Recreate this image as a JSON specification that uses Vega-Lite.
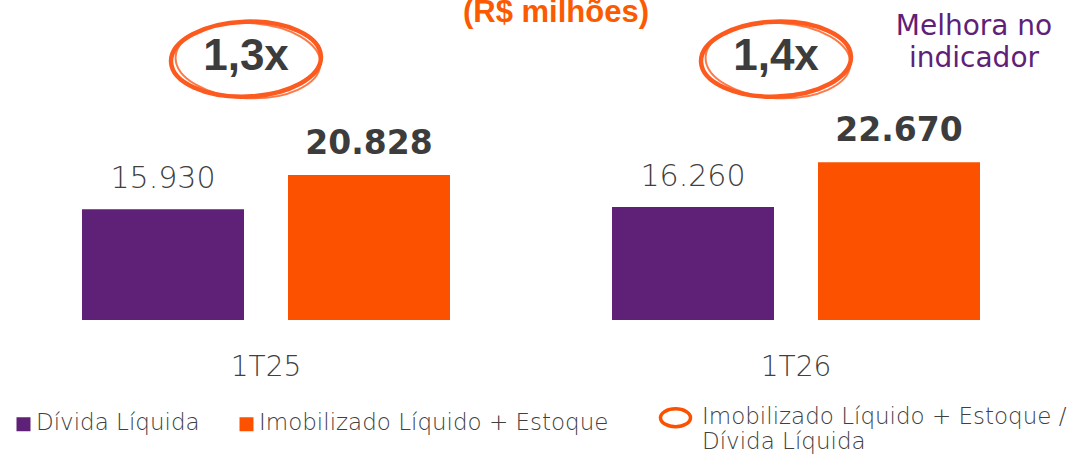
{
  "$schema": "https://vega.github.io/schema/vega-lite/v6.json",
  "width": 1060,
  "height": 320,
  "autosize": {"type": "none"},
  "padding": {"left": 1, "top": 0, "right": 10, "bottom": 135},
  "config": {
    "view": {"stroke": null},
    "font": "DejaVu Sans",
    "locale": {"number": {"decimal": ",", "thousands": ".", "grouping": [3], "currency": ["R$", ""]}}
  },
  "datasets": {
    "barras": [
      {"periodo": "1T25", "serie": "Dívida Líquida", "valor": 15930},
      {"periodo": "1T25", "serie": "Imobilizado Líquido + Estoque", "valor": 20828},
      {"periodo": "1T26", "serie": "Dívida Líquida", "valor": 16260},
      {"periodo": "1T26", "serie": "Imobilizado Líquido + Estoque", "valor": 22670}
    ],
    "razoes": [
      {"periodo": "1T25", "razao": "1,3x", "nota": ""},
      {"periodo": "1T26", "razao": "1,4x", "nota": "Melhora no\nindicador"}
    ],
    "titulo": [
      {"texto": "(R$ milhões)"}
    ]
  },
  "layer": [
    {
      "data": {"name": "barras"},
      "mark": {"type": "bar"},
      "encoding": {
        "x": {
          "field": "periodo",
          "type": "nominal",
          "scale": {"paddingInner": 0, "paddingOuter": 0},
          "axis": {
            "title": null,
            "domain": false,
            "ticks": false,
            "labelAngle": 0,
            "labelFont": "DejaVu Sans",
            "labelFontSize": 28,
            "labelFontWeight": 300,
            "labelColor": "#404040",
            "labelPadding": 33
          }
        },
        "xOffset": {"field": "serie", "type": "nominal", "scale": {"paddingInner": 0.2136, "paddingOuter": 0.3932}},
        "y": {"field": "valor", "type": "quantitative", "scale": {"domain": [0, 46000], "nice": false}, "axis": null},
        "color": {
          "field": "serie",
          "type": "nominal",
          "scale": {
            "domain": ["Dívida Líquida", "Imobilizado Líquido + Estoque", "Imobilizado Líquido + Estoque / Dívida Líquida"],
            "range": ["#5F2177", "#FC5200", "#FC5200"]
          },
          "legend": {
            "orient": "none",
            "legendX": 11,
            "legendY": 397,
            "direction": "horizontal",
            "columns": 3,
            "columnPadding": 32,
            "title": null,
            "padding": 0,
            "symbolType": "square",
            "symbolSize": 196,
            "symbolStrokeWidth": 0,
            "labelFont": "DejaVu Sans",
            "labelFontSize": 23,
            "labelFontWeight": 300,
            "labelColor": "#404040",
            "labelLimit": 600,
            "labelOffset": 1,
            "labelBaseline": "top",
            "labelExpr": "datum.index === 2 ? ['Imobilizado Líquido + Estoque /', 'Dívida Líquida'] : datum.label",
            "encoding": {
              "symbols": {
                "shape": {"value": {"expr": "datum.index === 2 ? 'M -1.8 0.6 M -1 0.6 A 1 0.6 0 1 1 1 0.6 A 1 0.6 0 1 1 -1 0.6 Z' : 'square'"}},
                "size": {"value": {"expr": "datum.index === 2 ? 900 : 196"}},
                "fill": {"value": {"expr": "datum.index === 2 ? 'transparent' : scale('color', datum.value)"}},
                "fillOpacity": {"value": {"expr": "datum.index === 2 ? 0 : 1"}},
                "stroke": {"value": {"expr": "datum.index === 2 ? '#FC5200' : 'transparent'"}},
                "strokeWidth": {"value": 3.5}
              },
              "labels": {
                "dx": {"value": {"expr": "datum.index === 2 ? 14 : 0"}},
                "dy": {"value": {"expr": "datum.index === 2 ? -3 : -12"}}
              }
            }
          }
        }
      }
    },
    {
      "data": {"name": "barras"},
      "transform": [{"filter": "datum.serie === 'Dívida Líquida'"}],
      "mark": {"type": "text", "baseline": "alphabetic", "dy": -21, "fontSize": 30, "fontWeight": 300, "color": "#404040", "font": "DejaVu Sans"},
      "encoding": {
        "x": {"field": "periodo", "type": "nominal"},
        "xOffset": {"field": "serie", "type": "nominal"},
        "y": {"field": "valor", "type": "quantitative"},
        "text": {"field": "valor", "type": "quantitative", "format": ",d"}
      }
    },
    {
      "data": {"name": "barras"},
      "transform": [{"filter": "datum.serie !== 'Dívida Líquida'"}],
      "mark": {"type": "text", "baseline": "alphabetic", "dy": -21, "fontSize": 33, "fontWeight": "bold", "color": "#3C3C3C", "font": "DejaVu Sans"},
      "encoding": {
        "x": {"field": "periodo", "type": "nominal"},
        "xOffset": {"field": "serie", "type": "nominal"},
        "y": {"field": "valor", "type": "quantitative"},
        "text": {"field": "valor", "type": "quantitative", "format": ",d"}
      }
    },
    {
      "data": {"name": "razoes"},
      "mark": {"type": "point", "filled": false, "shape": "M -1 0 A 1 0.5 0 1 1 1 0 A 1 0.5 0 1 1 -1 0 Z", "size": 22500, "stroke": "#FC5A1E", "strokeWidth": 4.5, "opacity": 1, "xOffset": -20, "angle": -2},
      "encoding": {
        "x": {"field": "periodo", "type": "nominal"},
        "y": {"datum": 37500, "type": "quantitative"}
      }
    },
    {
      "data": {"name": "razoes"},
      "mark": {"type": "point", "filled": false, "shape": "M -1 0 A 1 0.52 0 1 1 1 0 A 1 0.52 0 1 1 -1 0 Z", "size": 21000, "stroke": "#FC5A1E", "strokeWidth": 2, "opacity": 0.8, "xOffset": -18, "angle": 3},
      "encoding": {
        "x": {"field": "periodo", "type": "nominal"},
        "y": {"datum": 37300, "type": "quantitative"}
      }
    },
    {
      "data": {"name": "razoes"},
      "mark": {"type": "text", "baseline": "alphabetic", "fontSize": 44, "fontWeight": "bold", "color": "#3C3C3C", "font": "Liberation Sans", "xOffset": -20},
      "encoding": {
        "x": {"field": "periodo", "type": "nominal"},
        "y": {"datum": 36000, "type": "quantitative"},
        "text": {"field": "razao", "type": "nominal"}
      }
    },
    {
      "data": {"name": "razoes"},
      "mark": {"type": "text", "baseline": "alphabetic", "align": "center", "fontSize": 28, "fontWeight": "normal", "color": "#5F2177", "font": "DejaVu Sans", "lineBreak": "\n", "lineHeight": 32, "dx": 178},
      "encoding": {
        "x": {"field": "periodo", "type": "nominal"},
        "y": {"datum": 41000, "type": "quantitative"},
        "text": {"field": "nota", "type": "nominal"}
      }
    },
    {
      "data": {"name": "titulo"},
      "mark": {"type": "text", "baseline": "alphabetic", "align": "center", "fontSize": 31, "fontWeight": "bold", "color": "#FC5A00", "font": "Liberation Sans", "x": {"expr": "width / 2"}, "dx": 25},
      "encoding": {
        "y": {"datum": 42900, "type": "quantitative"},
        "text": {"field": "texto", "type": "nominal"}
      }
    }
  ]
}
